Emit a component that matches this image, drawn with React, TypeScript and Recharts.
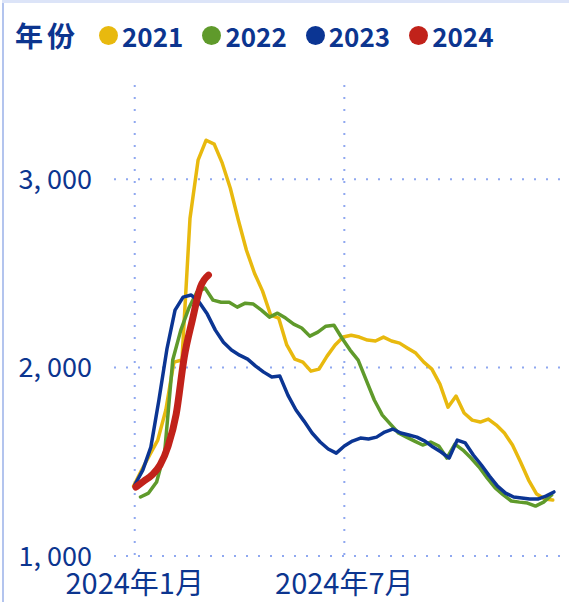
import React from 'react';
import { LineChart, Line, XAxis, YAxis, CartesianGrid } from 'recharts';

const legendTitle = '年份';
const years = ['2021', '2022', '2023', '2024'];
const colors = ['#E8B90E', '#5F9A2B', '#0B3593', '#C1221A'];
const startDays = [-1, 5, 0, 1];

const values2021 = [1371, 1456, 1536, 1615, 1775, 2029, 2040, 2793, 3101, 3207, 3186, 3085, 2952, 2782, 2623, 2501, 2406, 2279, 2263, 2120, 2045, 2029, 1981, 1992, 2061, 2120, 2162, 2172, 2162, 2146, 2141, 2162, 2141, 2130, 2103, 2077, 2029, 1992, 1912, 1790, 1849, 1759, 1721, 1711, 1727, 1695, 1653, 1589, 1499, 1403, 1329, 1302, 1297];
const values2022 = [1313, 1334, 1393, 1552, 2040, 2199, 2316, 2401, 2422, 2358, 2347, 2347, 2321, 2342, 2337, 2305, 2268, 2289, 2263, 2231, 2210, 2167, 2188, 2220, 2225, 2156, 2093, 2040, 1934, 1828, 1748, 1700, 1653, 1631, 1610, 1589, 1605, 1584, 1520, 1594, 1562, 1520, 1472, 1414, 1361, 1324, 1292, 1286, 1281, 1265, 1286, 1324];
const values2023 = [1377, 1456, 1578, 1828, 2100, 2305, 2374, 2385, 2347, 2284, 2199, 2135, 2093, 2066, 2045, 2008, 1976, 1950, 1955, 1854, 1775, 1716, 1653, 1605, 1568, 1546, 1584, 1610, 1626, 1621, 1631, 1658, 1674, 1653, 1642, 1631, 1610, 1578, 1552, 1520, 1615, 1600, 1536, 1483, 1424, 1371, 1334, 1313, 1308, 1302, 1302, 1318, 1340];
const values2024 = [1366, 1398, 1430, 1483, 1584, 1753, 2056, 2252, 2427, 2491];

const xTickDays = [0, 182];
const xTickLabels = ['2024年1月', '2024年7月'];
const yTicks = [1000, 2000, 3000];

const allValues = [values2021, values2022, values2023, values2024];

const toPoints = (vals: number[], start: number) => vals.map((v, i) => ({ d: start + 7 * i, v }));

const textColor = '#0C358F';
const gridColor = '#8FA8F0';
const font = '"Noto Sans CJK SC", "Noto Sans", sans-serif';

const formatY = (v: number) => v.toLocaleString('en-US').replace(',', ', ');

export default function App() {
  return (
    <div style={{ position: 'absolute', left: 0, top: 0, width: 569, height: 602, background: '#fff', overflow: 'hidden', fontFamily: font }}>
      <div style={{ position: 'absolute', left: 2, top: 0, width: 2, height: 602, background: '#B3C4EE' }} />
      <div style={{ position: 'absolute', left: 2, top: 0, width: 567, height: 3, background: '#DCE4F8' }} />
      <div style={{ position: 'absolute', left: 15, top: 13, height: 44, display: 'flex', alignItems: 'center', color: textColor, fontWeight: 700 }}>
        <span style={{ fontSize: 28, letterSpacing: 4, marginRight: 20 }}>{legendTitle}</span>
        {years.map((y, i) => (
          <span key={y} style={{ display: 'flex', alignItems: 'center', marginRight: 19 }}>
            <span style={{ width: 19, height: 19, borderRadius: '50%', background: colors[i], display: 'inline-block', marginRight: 4 }} />
            <span style={{ fontSize: 26 }}>{y}</span>
          </span>
        ))}
      </div>
      <div style={{ position: 'absolute', left: 0, top: 0 }}>
        <LineChart width={569} height={602} margin={{ top: 85, right: 7, bottom: 0, left: 0 }}>
          <CartesianGrid stroke={gridColor} strokeWidth={2} strokeDasharray="2 10" syncWithTicks />
          <XAxis
            type="number"
            dataKey="d"
            domain={[-18, 371]}
            ticks={xTickDays}
            tickFormatter={(d: number) => xTickLabels[xTickDays.indexOf(d)] ?? ''}
            axisLine={false}
            tickLine={false}
            tickSize={0}
            tickMargin={17}
            height={46}
            allowDataOverflow
            tick={{ fill: textColor, fontSize: 29, fontFamily: font }}
          />
          <YAxis
            type="number"
            domain={[1000, 3500]}
            ticks={yTicks}
            tickFormatter={formatY}
            axisLine={false}
            tickLine={false}
            tickSize={0}
            tickMargin={22}
            width={114}
            allowDataOverflow
            tick={{ fill: textColor, fontSize: 27, fontFamily: font }}
          />
          {years.map((y, i) => (
            <Line
              key={y}
              data={toPoints(allValues[i], startDays[i])}
              dataKey="v"
              name={y}
              type={i === 3 ? 'monotone' : 'linear'}
              stroke={colors[i]}
              strokeWidth={i === 3 ? 7 : 3.5}
              strokeLinecap="round"
              strokeLinejoin="round"
              dot={false}
              activeDot={false}
              isAnimationActive={false}
            />
          ))}
        </LineChart>
      </div>
    </div>
  );
}
